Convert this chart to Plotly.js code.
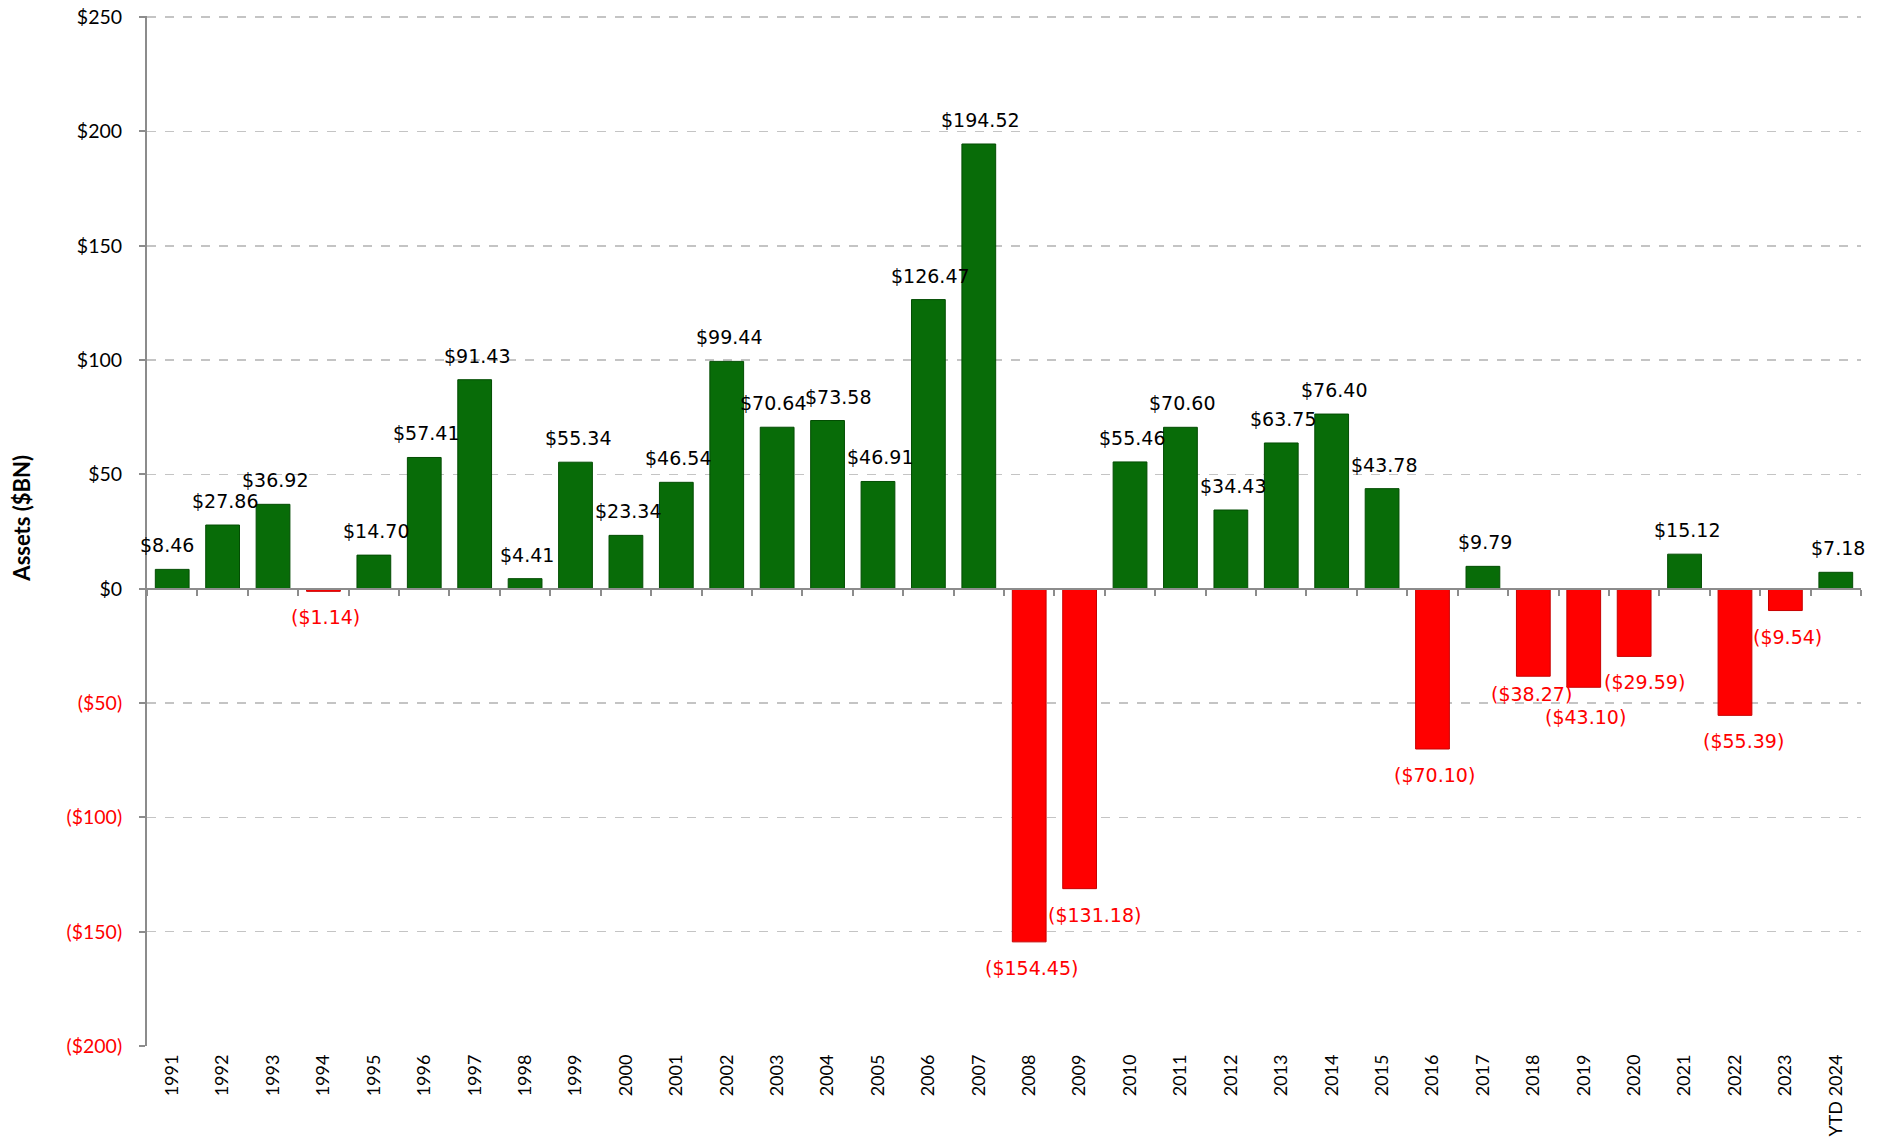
<!DOCTYPE html>
<html>
<head>
<meta charset="utf-8">
<script src="https://cdn.plot.ly/plotly-3.0.1.min.js"></script>
<style>html,body{margin:0;padding:0;background:#fff;}#chart{width:1879px;height:1137px;}</style>
</head>
<body>
<div id="chart"></div>
<script>
const years = ["1991","1992","1993","1994","1995","1996","1997","1998","1999","2000",
  "2001","2002","2003","2004","2005","2006","2007","2008","2009","2010",
  "2011","2012","2013","2014","2015","2016","2017","2018","2019","2020",
  "2021","2022","2023","YTD 2024"];
const flows = [8.46, 27.86, 36.92, -1.14, 14.70, 57.41, 91.43, 4.41, 55.34, 23.34,
  46.54, 99.44, 70.64, 73.58, 46.91, 126.47, 194.52, -154.45, -131.18, 55.46,
  70.60, 34.43, 63.75, 76.40, 43.78, -70.10, 9.79, -38.27, -43.10, -29.59,
  15.12, -55.39, -9.54, 7.18];
const yTickVals = [250, 200, 150, 100, 50, 0, -50, -100, -150, -200];
const yTickText = ["$250","$200","$150","$100","$50","$0",
  "<span style='color:#ff0000'>($50)</span>","<span style='color:#ff0000'>($100)</span>",
  "<span style='color:#ff0000'>($150)</span>","<span style='color:#ff0000'>($200)</span>"];
const yTitle = "Assets ($BN)";

// small label nudges (px) to mimic the original label placement / avoid collisions
const labelNudge = {
  "1991": [-7, 0], "2003": [-6, 0], "2004": [8, 0], "2009": [13, 0],
  "2018": [-4, 8], "2019": [0, -4], "2020": [8, 0], "2022": [7, 0]
};

const GREEN = "#086c08", RED = "#ff0000";
const fmt = v => v < 0 ? "($" + Math.abs(v).toFixed(2) + ")" : "$" + v.toFixed(2);

const barTrace = {
  type: "bar",
  x: years,
  y: flows,
  marker: {
    color: flows.map(v => v < 0 ? RED : GREEN),
    line: {color: flows.map(v => v < 0 ? "#c80000" : "#034d03"), width: 1}
  },
  hoverinfo: "x+y",
  showlegend: false
};
const tickTrace = {
  type: "scatter", mode: "markers", x: years, y: flows.map(() => 0),
  xaxis: "x2", yaxis: "y", marker: {opacity: 0}, hoverinfo: "skip", showlegend: false
};

const annotations = years.map((yr, i) => {
  const v = flows[i];
  const n = labelNudge[yr] || [0, 0];
  const neg = v < 0;
  return {
    x: i, y: v, xref: "x", yref: "y",
    text: fmt(v), showarrow: false,
    xanchor: "center", yanchor: neg ? "top" : "bottom",
    xshift: 2 + n[0], yshift: (neg ? -13 : 11) + n[1],
    font: {family: "DejaVu Sans", size: 19, color: neg ? RED : "#000000"}
  };
});
annotations.push({
  xref: "paper", yref: "paper", x: 0, y: 0.512, xanchor: "center", yanchor: "middle",
  xshift: -125, textangle: -90, showarrow: false, text: yTitle,
  font: {family: "Lato", size: 22, weight: "bold", color: "#000"}
});

const layout = {
  width: 1879, height: 1137,
  margin: {l: 147, r: 18, t: 16, b: 91},
  paper_bgcolor: "#ffffff", plot_bgcolor: "#ffffff",
  bargap: 0.33,
  font: {family: "Lato", color: "#000"},
  annotations: annotations,
  xaxis: {
    type: "category", categoryarray: years, range: [-0.5, years.length - 0.5],
    tickangle: -90, tickfont: {family: "Lato", size: 18, color: "#000"},
    showgrid: false, zeroline: false, showline: false, ticks: "",
    ticklabelstandoff: 4
  },
  xaxis2: {
    type: "category", categoryarray: years, range: [-0.5, years.length - 0.5],
    overlaying: "x", anchor: "free", position: 200 / 450.5, side: "bottom",
    showticklabels: false, showgrid: false, zeroline: false,
    showline: true, linecolor: "#8c8c8c", linewidth: 2,
    ticks: "outside", tickson: "boundaries", ticklen: 6, tickcolor: "#8c8c8c", tickwidth: 2
  },
  yaxis: {
    range: [-200, 250.5], tickvals: yTickVals, ticktext: yTickText,
    tickfont: {family: "Lato", size: 19.5, color: "#000"},
    showgrid: true, gridcolor: "#c4c4c4", griddash: "dash", gridwidth: 1.5,
    zeroline: false, showline: true, linecolor: "#8c8c8c", linewidth: 2,
    ticks: "outside", ticklen: 6, tickcolor: "#8c8c8c", tickwidth: 2,
    ticklabelstandoff: 13
  }
};

Plotly.newPlot("chart", [barTrace, tickTrace], layout, {displayModeBar: false, staticPlot: true});
</script>
</body>
</html>
